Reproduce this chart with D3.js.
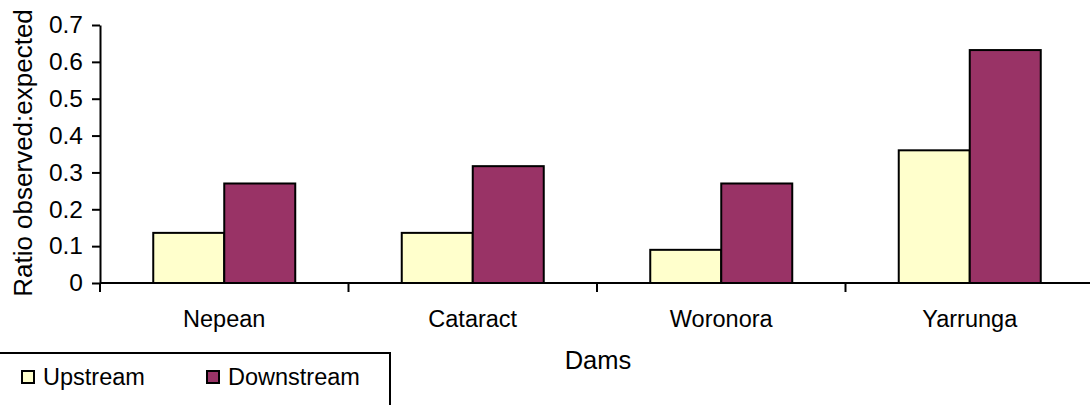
<!DOCTYPE html>
<html>
<head>
<meta charset="utf-8">
<script src="https://cdn.jsdelivr.net/npm/d3@7"></script>
<style>
  body { margin: 0; background: #fff; }
  svg { display: block; font-family: "Liberation Sans", Arial, sans-serif; }
</style>
</head>
<body>
<div id="chart"></div>
<script>
var dams = ["Nepean", "Cataract", "Woronora", "Yarrunga"];
var seriesNames = ["Upstream", "Downstream"];
var upstream = [0.136, 0.136, 0.09, 0.36];
var downstream = [0.27, 0.317, 0.27, 0.632];
var yTicks = [0, 0.1, 0.2, 0.3, 0.4, 0.5, 0.6, 0.7];
var colors = ["#FFFFCC", "#993366"];

var width = 1090, height = 405;
var svg = d3.select("#chart").append("svg")
    .attr("width", width)
    .attr("height", height);

var x0 = d3.scaleBand().domain(dams).range([100, 1094]).padding(0);
var x1 = d3.scaleBand().domain(seriesNames).range([0, x0.bandwidth()])
    .paddingInner(0).paddingOuter(0.75);
var y = d3.scaleLinear().domain([0, 0.7]).range([283, 25]);

var rows = dams.map(function(d, i) {
    return { dam: d, values: [upstream[i], downstream[i]] };
});

// bars
var groups = svg.selectAll(".dam")
    .data(rows)
    .enter().append("g")
    .attr("transform", function(d) { return "translate(" + x0(d.dam) + ",0)"; });

groups.selectAll("rect")
    .data(function(d) { return d.values.map(function(v, j) { return { s: seriesNames[j], v: v, j: j }; }); })
    .enter().append("rect")
    .attr("x", function(d) { return x1(d.s); })
    .attr("y", function(d) { return y(d.v); })
    .attr("width", x1.bandwidth())
    .attr("height", function(d) { return y(0) - y(d.v); })
    .attr("fill", function(d) { return colors[d.j]; })
    .attr("stroke", "#000")
    .attr("stroke-width", 2);

// y axis
var yAxis = svg.append("g")
    .attr("transform", "translate(100,0)")
    .call(d3.axisLeft(y).tickValues(yTicks)
        .tickFormat(function(d) { return d === 0 ? "0" : d.toFixed(1); })
        .tickSize(8).tickPadding(9).tickSizeOuter(0));
yAxis.attr("font-family", null).attr("font-size", null);
yAxis.select(".domain").attr("stroke", "#000").attr("stroke-width", 2);
yAxis.selectAll(".tick line").attr("stroke", "#000").attr("stroke-width", 2);
yAxis.selectAll("text").style("font-size", "24.5px").attr("fill", "#000");

// x axis
svg.append("line")
    .attr("x1", x0.range()[0]).attr("x2", width)
    .attr("y1", y(0)).attr("y2", y(0))
    .attr("stroke", "#000").attr("stroke-width", 2);

svg.selectAll(".xtick")
    .data(dams)
    .enter().append("line")
    .attr("x1", function(d) { return x0(d); })
    .attr("x2", function(d) { return x0(d); })
    .attr("y1", y(0)).attr("y2", y(0) + 9)
    .attr("stroke", "#000").attr("stroke-width", 2);

svg.selectAll(".xlabel")
    .data(dams)
    .enter().append("text")
    .attr("x", function(d) { return x0(d) + x0.bandwidth() / 2; })
    .attr("y", 327)
    .attr("text-anchor", "middle")
    .style("font-size", "23.5px")
    .text(function(d) { return d; });

// axis titles
svg.append("text")
    .attr("x", 598).attr("y", 369)
    .attr("text-anchor", "middle")
    .style("font-size", "25.5px")
    .text("Dams");

svg.append("text")
    .attr("transform", "translate(32,153) rotate(-90)")
    .attr("text-anchor", "middle")
    .style("font-size", "26px")
    .text("Ratio observed:expected");

// legend
var legend = svg.append("g");
legend.append("rect")
    .attr("x", -10).attr("y", 353)
    .attr("width", 400).attr("height", 80)
    .attr("fill", "#fff").attr("stroke", "#000").attr("stroke-width", 2);

var legendX = [22, 207];
var items = legend.selectAll(".item")
    .data(seriesNames)
    .enter().append("g")
    .attr("transform", function(d, i) { return "translate(" + legendX[i] + ",0)"; });
items.append("rect")
    .attr("x", 0).attr("y", 371)
    .attr("width", 12).attr("height", 12)
    .attr("fill", function(d, i) { return colors[i]; })
    .attr("stroke", "#000").attr("stroke-width", 2);
items.append("text")
    .attr("x", 21).attr("y", 385)
    .style("font-size", "23.5px")
    .text(function(d) { return d; });
</script>
</body>
</html>
